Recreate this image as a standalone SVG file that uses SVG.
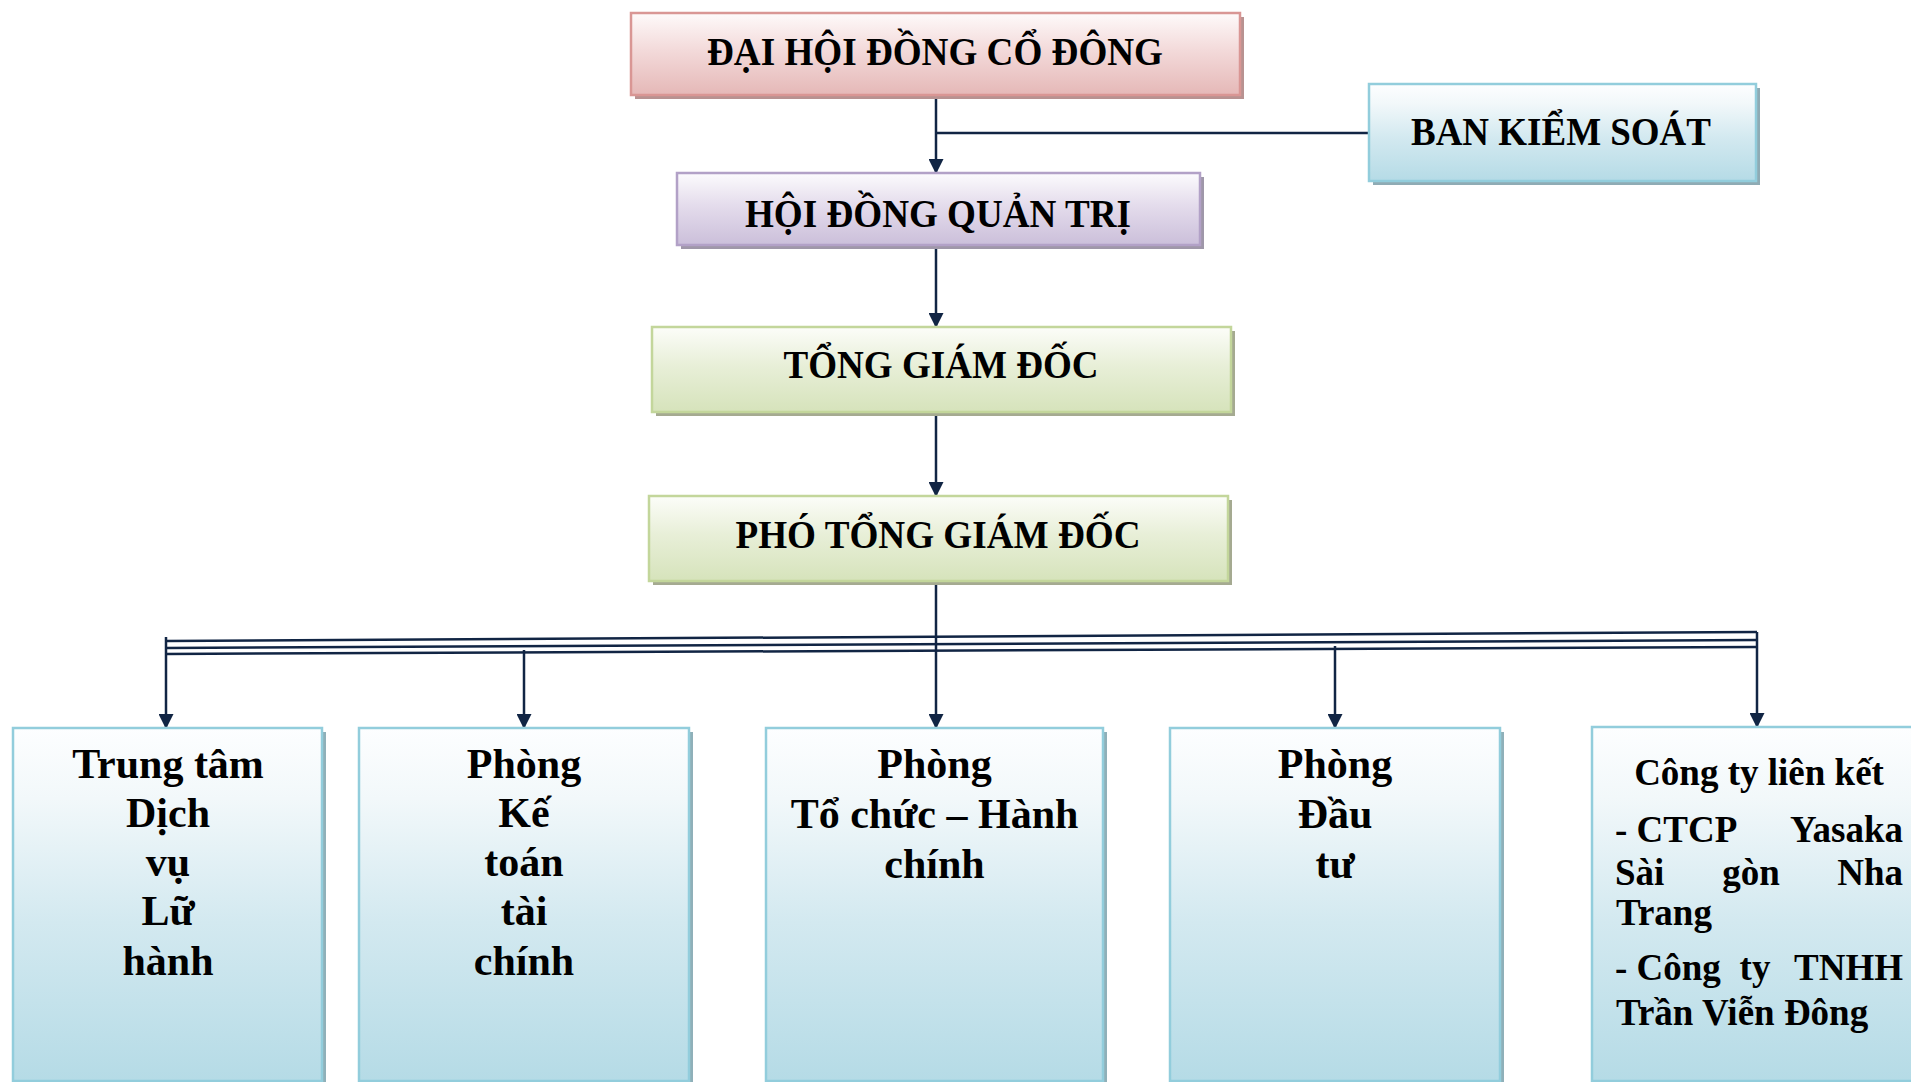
<svg xmlns="http://www.w3.org/2000/svg" width="1911" height="1082" viewBox="0 0 1911 1082">
  <defs>
    <linearGradient id="gRed" x1="0" y1="0" x2="0" y2="1">
      <stop offset="0" stop-color="#fefafa"/>
      <stop offset="0.45" stop-color="#f3dada"/>
      <stop offset="1" stop-color="#e5b8b7"/>
    </linearGradient>
    <linearGradient id="gPurple" x1="0" y1="0" x2="0" y2="1">
      <stop offset="0" stop-color="#fcfbfd"/>
      <stop offset="0.45" stop-color="#e4dcec"/>
      <stop offset="1" stop-color="#cbbfda"/>
    </linearGradient>
    <linearGradient id="gGreen" x1="0" y1="0" x2="0" y2="1">
      <stop offset="0" stop-color="#fcfdf9"/>
      <stop offset="0.45" stop-color="#e8efd8"/>
      <stop offset="1" stop-color="#d6e3bb"/>
    </linearGradient>
    <linearGradient id="gBlue" x1="0" y1="0" x2="0" y2="1">
      <stop offset="0" stop-color="#fdfeff"/>
      <stop offset="0.2" stop-color="#f2f8fa"/>
      <stop offset="0.55" stop-color="#d3e9f0"/>
      <stop offset="1" stop-color="#b5dbe6"/>
    </linearGradient>
    <marker id="arr" markerUnits="userSpaceOnUse" markerWidth="16" markerHeight="15" refX="15" refY="8" orient="auto" viewBox="0 0 16 16">
      <path d="M0,0 L16,8 L0,16 Z" fill="#112544"/>
    </marker>
    <style>
      .t { font-family: "Liberation Serif", "Times New Roman", serif; font-weight: bold; fill: #000; }
      .top { font-size: 39px; text-anchor: middle; }
      .bot { font-size: 42px; text-anchor: middle; }
      .sm { font-size: 37px; }
      .line { stroke: #112544; stroke-width: 2.5; fill: none; }
      .arrow { stroke: #112544; stroke-width: 2.5; fill: none; marker-end: url(#arr); }
      .bx { stroke-width: 2.5; }
      .red { fill: url(#gRed); stroke: #d99694; }
      .pur { fill: url(#gPurple); stroke: #b2a1c7; }
      .grn { fill: url(#gGreen); stroke: #c3d69b; }
      .blu { fill: url(#gBlue); stroke: #92cddc; }
    </style>
  </defs>

  <g id="connectors">
    <line class="arrow" x1="936" y1="95" x2="936" y2="173"/>
    <line class="line" x1="936" y1="133" x2="1369" y2="133"/>
    <line class="arrow" x1="936" y1="247" x2="936" y2="327"/>
    <line class="arrow" x1="936" y1="414" x2="936" y2="496"/>
    <line class="line" x1="166" y1="641" x2="1757" y2="632" stroke-width="2"/>
    <line class="line" x1="166" y1="648" x2="1757" y2="640" stroke-width="5"/>
    <line class="line" x1="166" y1="654" x2="1757" y2="647" stroke-width="2.5"/>
    <line class="arrow" x1="936" y1="583" x2="936" y2="728"/>
    <line class="arrow" x1="166" y1="637" x2="166" y2="728"/>
    <line class="arrow" x1="524" y1="650" x2="524" y2="728"/>
    <line class="arrow" x1="1335" y1="646" x2="1335" y2="728"/>
    <line class="arrow" x1="1757" y1="632" x2="1757" y2="727"/>
  </g>

  <g id="dai-hoi-dong-co-dong">
    <rect x="635" y="17" width="609" height="82" fill="#b89291"/>
    <rect class="bx red" x="631" y="13" width="609" height="82"/>
    <text class="t top" x="935" y="65" textLength="456" lengthAdjust="spacingAndGlyphs">ĐẠI HỘI ĐỒNG CỔ ĐÔNG</text>
  </g>

  <g id="ban-kiem-soat">
    <rect x="1373" y="88" width="387" height="97" fill="#8fabb4"/>
    <rect class="bx blu" x="1369" y="84" width="387" height="97"/>
    <text class="t top" x="1561" y="145" textLength="300" lengthAdjust="spacingAndGlyphs">BAN KIỂM SOÁT</text>
  </g>

  <g id="hoi-dong-quan-tri">
    <rect x="681" y="177" width="523" height="72" fill="#9f97a9"/>
    <rect class="bx pur" x="677" y="173" width="523" height="72"/>
    <text class="t top" x="938" y="227" textLength="386" lengthAdjust="spacingAndGlyphs">HỘI ĐỒNG QUẢN TRỊ</text>
  </g>

  <g id="tong-giam-doc">
    <rect x="656" y="331" width="579" height="85" fill="#a5aa91"/>
    <rect class="bx grn" x="652" y="327" width="579" height="85"/>
    <text class="t top" x="941" y="378" textLength="315" lengthAdjust="spacingAndGlyphs">TỔNG GIÁM ĐỐC</text>
  </g>

  <g id="pho-tong-giam-doc">
    <rect x="653" y="500" width="579" height="85" fill="#a5aa91"/>
    <rect class="bx grn" x="649" y="496" width="579" height="85"/>
    <text class="t top" x="938" y="548" textLength="405" lengthAdjust="spacingAndGlyphs">PHÓ TỔNG GIÁM ĐỐC</text>
  </g>

  <g id="trung-tam-dich-vu-lu-hanh">
    <rect x="17" y="732" width="309" height="353" fill="#8fb0b9"/>
    <rect class="bx blu" x="13" y="728" width="309" height="353"/>
    <text class="t bot" x="168" y="778">Trung tâm</text>
    <text class="t bot" x="168" y="827">Dịch</text>
    <text class="t bot" x="168" y="876">vụ</text>
    <text class="t bot" x="168" y="925">Lữ</text>
    <text class="t bot" x="168" y="975">hành</text>
  </g>

  <g id="phong-ke-toan-tai-chinh">
    <rect x="363" y="732" width="330" height="353" fill="#8fb0b9"/>
    <rect class="bx blu" x="359" y="728" width="330" height="353"/>
    <text class="t bot" x="524" y="778">Phòng</text>
    <text class="t bot" x="524" y="827">Kế</text>
    <text class="t bot" x="524" y="876">toán</text>
    <text class="t bot" x="524" y="925">tài</text>
    <text class="t bot" x="524" y="975">chính</text>
  </g>

  <g id="phong-to-chuc-hanh-chinh">
    <rect x="770" y="732" width="337" height="353" fill="#8fb0b9"/>
    <rect class="bx blu" x="766" y="728" width="337" height="353"/>
    <text class="t bot" x="934.5" y="778">Phòng</text>
    <text class="t bot" x="934.5" y="828">Tổ chức – Hành</text>
    <text class="t bot" x="934.5" y="878">chính</text>
  </g>

  <g id="phong-dau-tu">
    <rect x="1174" y="732" width="330" height="353" fill="#8fb0b9"/>
    <rect class="bx blu" x="1170" y="728" width="330" height="353"/>
    <text class="t bot" x="1335" y="778">Phòng</text>
    <text class="t bot" x="1335" y="828">Đầu</text>
    <text class="t bot" x="1335" y="878">tư</text>
  </g>

  <g id="cong-ty-lien-ket">
    <rect x="1596" y="731" width="340" height="354" fill="#8fb0b9"/>
    <rect class="bx blu" x="1592" y="727" width="340" height="354"/>
    <text class="t sm" x="1759" y="785" text-anchor="middle">Công ty liên kết</text>
    <text class="t sm" y="842"><tspan x="1615">- CTCP</tspan><tspan x="1903" text-anchor="end">Yasaka</tspan></text>
    <text class="t sm" y="885"><tspan x="1615">Sài</tspan><tspan x="1751" text-anchor="middle">gòn</tspan><tspan x="1903" text-anchor="end">Nha</tspan></text>
    <text class="t sm" x="1616" y="925">Trang</text>
    <text class="t sm" y="980"><tspan x="1615">- Công</tspan><tspan x="1755" text-anchor="middle">ty</tspan><tspan x="1903" text-anchor="end">TNHH</tspan></text>
    <text class="t sm" x="1616" y="1025">Trần Viễn Đông</text>
  </g>
</svg>
